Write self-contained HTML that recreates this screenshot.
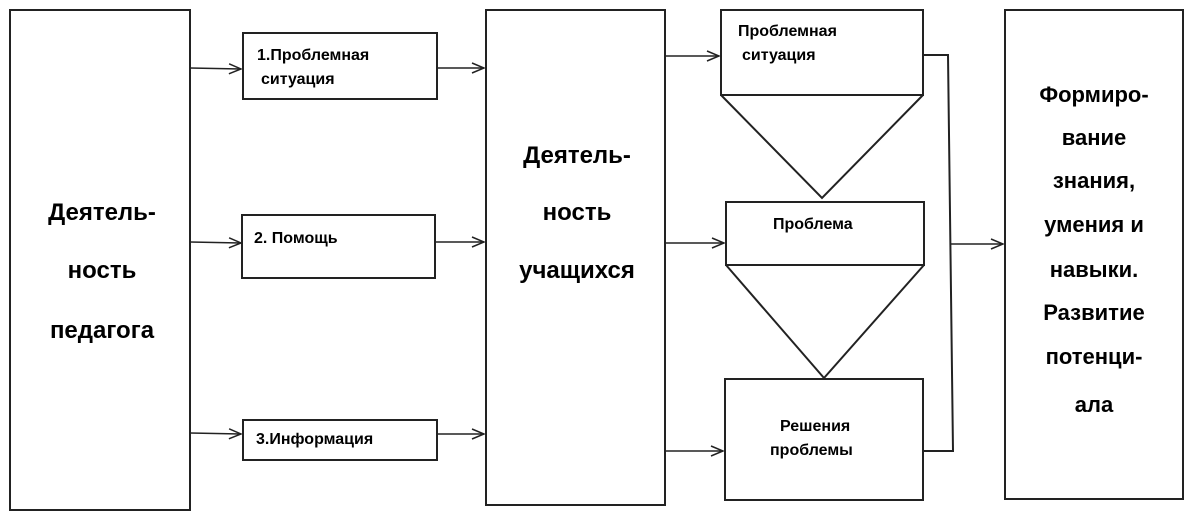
<!DOCTYPE html>
<html><head><meta charset="utf-8"><style>
body{margin:0;background:#fff;}
svg text{font-family:"Liberation Sans",Arial,sans-serif;font-weight:bold;fill:#000;}
</style></head><body>
<svg width="1194" height="523" viewBox="0 0 1194 523" xmlns="http://www.w3.org/2000/svg">
<defs><marker id="a" markerWidth="14" markerHeight="12" refX="13" refY="6" orient="auto" markerUnits="userSpaceOnUse"><path d="M1,1 L13,6 L1,11" fill="none" stroke="#222" stroke-width="1.5"/></marker></defs>
<g fill="none" stroke="#222" stroke-width="2">
<rect x="10" y="10" width="180" height="500"/>
<rect x="243" y="33" width="194" height="66"/>
<rect x="242" y="215" width="193" height="63"/>
<rect x="243" y="420" width="194" height="40"/>
<rect x="486" y="10" width="179" height="495"/>
<rect x="721" y="10" width="202" height="85"/>
<polyline points="721,95 822,198 923,95"/>
<rect x="726" y="202" width="198" height="63"/>
<polyline points="726,265 824,378 924,265"/>
<rect x="725" y="379" width="198" height="121"/>
<rect x="1005" y="10" width="178" height="489"/>
</g>
<g stroke="#222" stroke-width="1.5" fill="none" marker-end="url(#a)">
<line x1="190" y1="68" x2="241" y2="69"/>
<line x1="190" y1="242" x2="241" y2="243"/>
<line x1="190" y1="433" x2="241" y2="434"/>
<line x1="437" y1="68" x2="484" y2="68"/>
<line x1="435" y1="242" x2="484" y2="242"/>
<line x1="437" y1="434" x2="484" y2="434"/>
<line x1="665" y1="56" x2="719" y2="56"/>
<line x1="665" y1="243" x2="724" y2="243"/>
<line x1="665" y1="451" x2="723" y2="451"/>
<line x1="950" y1="244" x2="1003" y2="244"/>
</g>
<polyline points="923,55 948,55 953,451 923,451" fill="none" stroke="#222" stroke-width="2"/>
<g font-size="24" text-anchor="middle">
<text x="102" y="220">Деятель-</text><text x="102" y="278">ность</text><text x="102" y="338">педагога</text>
<text x="577" y="163">Деятель-</text><text x="577" y="220">ность</text><text x="577" y="278">учащихся</text>
</g>
<g font-size="22" text-anchor="middle">
<text x="1094" y="102">Формиро-</text><text x="1094" y="145">вание</text><text x="1094" y="188">знания,</text><text x="1094" y="232">умения и</text><text x="1094" y="277">навыки.</text><text x="1094" y="320">Развитие</text><text x="1094" y="364">потенци-</text><text x="1094" y="412">ала</text>
</g>
<g font-size="16">
<text x="257" y="60">1.Проблемная</text><text x="261" y="84">ситуация</text>
<text x="254" y="243">2. Помощь</text>
<text x="256" y="444">3.Информация</text>
<text x="738" y="36">Проблемная</text><text x="742" y="60">ситуация</text>
<text x="773" y="229">Проблема</text>
<text x="780" y="431">Решения</text><text x="770" y="455">проблемы</text>
</g>
</svg>
</body></html>
